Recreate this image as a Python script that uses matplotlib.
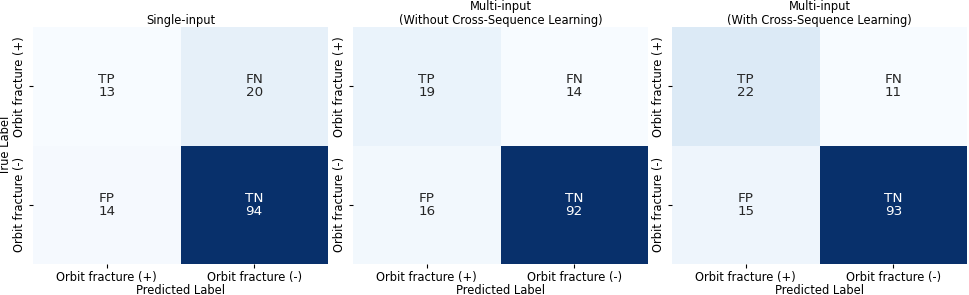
import numpy as np
import matplotlib
matplotlib.use("Agg")
import matplotlib.pyplot as plt
import seaborn as sns

titles = ["Single-input",
          "Multi-input\n(Without Cross-Sequence Learning)",
          "Multi-input\n(With Cross-Sequence Learning)"]
tick_labels = ["Orbit fracture (+)", "Orbit fracture (-)"]
cell_names = [["TP", "FN"], ["FP", "TN"]]
single_input = [[13, 20], [14, 94]]
multi_without = [[19, 14], [16, 92]]
multi_with = [[22, 11], [15, 93]]
matrices = [single_input, multi_without, multi_with]

FS = 8.3
fig = plt.figure(figsize=(9.69, 2.95), dpi=100)
lefts = [33, 353, 672]
for i, (m, title) in enumerate(zip(matrices, titles)):
    ax = fig.add_axes([lefts[i] / 969, 1 - 264 / 295, 295 / 969, (264 - 27) / 295])
    arr = np.array(m)
    annot = np.array([[f"{cell_names[r][c]}\n{arr[r, c]}" for c in range(2)] for r in range(2)])
    sns.heatmap(arr, annot=annot, fmt="", cmap="Blues", cbar=False, ax=ax,
                xticklabels=tick_labels, yticklabels=tick_labels,
                annot_kws={"fontsize": 9.7, "linespacing": 1.0})
    ax.set_title(title, fontsize=FS, pad=2, linespacing=1.1)
    ax.set_xlabel("Predicted Label", fontsize=FS, labelpad=0)
    if i == 0:
        ax.set_ylabel("True Label", fontsize=FS, labelpad=1)
    ax.tick_params(labelsize=FS, length=3, pad=2)
    plt.setp(ax.get_yticklabels(), rotation=90, va="center")

fig.savefig("out.png", dpi=100)
